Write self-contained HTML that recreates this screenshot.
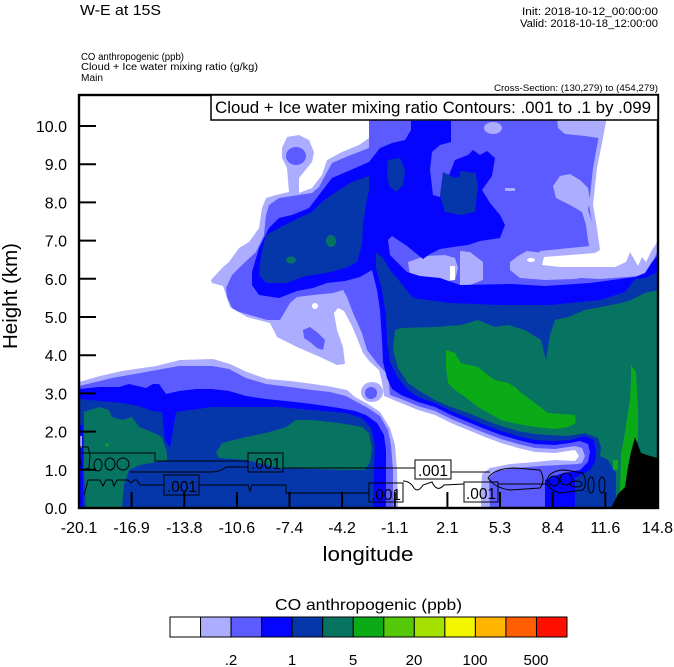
<!DOCTYPE html>
<html><head><meta charset="utf-8"><style>
html,body{margin:0;padding:0;background:#fff;}
svg{display:block;font-family:"Liberation Sans",Arial,sans-serif;}
</style></head><body>
<svg width="674" height="667" viewBox="0 0 674 667" xmlns="http://www.w3.org/2000/svg">
<defs><clipPath id="pc"><rect x="79" y="95" width="579" height="413"/></clipPath></defs>

<!-- header texts -->
<text x="80" y="15" font-size="15" textLength="81" lengthAdjust="spacingAndGlyphs">W-E at 15S</text>
<text x="658" y="15" font-size="11" text-anchor="end" textLength="136" lengthAdjust="spacingAndGlyphs">Init: 2018-10-12_00:00:00</text>
<text x="658" y="27" font-size="11" text-anchor="end" textLength="138" lengthAdjust="spacingAndGlyphs">Valid: 2018-10-18_12:00:00</text>
<text x="81" y="60" font-size="10" textLength="103" lengthAdjust="spacingAndGlyphs">CO anthropogenic   (ppb)</text>
<text x="81" y="70" font-size="10" textLength="177" lengthAdjust="spacingAndGlyphs">Cloud + Ice water mixing ratio   (g/kg)</text>
<text x="81" y="81" font-size="10" textLength="22" lengthAdjust="spacingAndGlyphs">Main</text>
<text x="658" y="91" font-size="9" text-anchor="end" textLength="164" lengthAdjust="spacingAndGlyphs">Cross-Section: (130,279) to (454,279)</text>

<g clip-path="url(#pc)">
<rect x="79" y="95" width="579" height="413" fill="#adadff"/>
<!-- medium -->
<g fill="#5b5bff">
<polygon points="369,118 600,118 599,135 593,168 589,205 593,228 590,246 560,249 540,251 535,262 545,276 600,279 640,276 648,272 658,250 658,508 490,508 489,478 497,471 515,468 540,466 560,465 578,464 582,463 585,456 582,448 575,446 568,447 555,449 535,448 518,444 501,439 485,433 468,426 451,419 435,411 418,406 401,399 390,395 388,375 377,363 367,350 362,333 353,313 347,297 343,290 333,293 313,295 297,297 290,303 280,320 267,320 233,310 227,297 226,288 232,275 242,265 256,252 264,235 266,215 269,205 279,198 312,193 319,187 327,172 332,163 346,157 369,148"/>
<polygon points="79,386 100,381 112,378 146,372 179,366 212,366 229,369 246,378 266,384 290,387 312,390 330,392 346,396 355,401 368,408 380,416 388,430 391,445 393,470 393,508 79,508"/>
</g>
<!-- light patches -->
<g fill="#adadff">
<ellipse cx="493" cy="128" rx="9" ry="6"/>
<polygon points="557,118 604,118 603,138 598,138 585,136 565,134 558,128"/>
<polygon points="560,176 570,174 580,180 588,188 590,200 588,210 593,225 596,248 590,252 588,240 586,225 582,212 570,205 556,198 553,186"/>
<polygon points="510,262 518,256 527,251 543,253 545,256 541,263 560,268 588,269 592,276 575,279 545,280 520,278 510,270"/>
<polygon points="408,262 425,256 445,255 455,258 458,268 455,280 440,283 420,282 410,275"/>
<polygon points="460,251 470,252 483,262 483,280 470,285 460,285"/>
<rect x="505" y="188" width="10" height="3"/>
</g>
<!-- white -->
<g fill="#ffffff">
<polygon points="79,95 369,95 369,138 359,145 342,152 327,160 322,175 312,188 299,193 299,178 312,162 314,152 309,140 299,135 287,137 282,148 282,158 287,168 289,192 276,195 266,198 262,208 259,228 249,242 239,248 229,262 222,268 211,280 212,283 223,286 230,307 247,317 270,323 277,337 297,347 320,357 337,365 345,364 343,347 337,330 334,313 338,308 344,311 351,324 357,338 363,353 370,362 379,370 382,382 384,396 401,403 418,410 435,415 451,423 468,430 485,437 501,443 518,448 535,452 555,453 568,451 575,450 579,456 575,461 555,460 535,462 510,464 490,468 482,474 481,490 481,508 398,508 397,470 395,445 390,428 380,412 368,404 355,397 347,390 327,386 313,384 290,381 267,379 247,372 230,364 213,359 180,360 156,366 122,371 100,376 79,382"/>
<polygon points="607,95 658,95 658,241 652,250 646,262 642,257 638,266 630,252 626,262 615,267 590,267 560,267 542,265 544,257 570,255 595,253 600,250 597,228 593,205 597,168 603,138 606,122"/>
<circle cx="315" cy="306" r="3"/>
<rect x="450" y="266" width="5" height="14"/>
<ellipse cx="531" cy="260" rx="4" ry="2"/>
</g>
<ellipse cx="372" cy="392" rx="11" ry="10" fill="#adadff"/>
<g fill="#5b5bff">
<circle cx="371" cy="393" r="6"/>
<polygon points="303,330 310,327 318,333 325,340 323,350 317,348 310,342 304,338"/>
<ellipse cx="296" cy="156" rx="10" ry="9"/>
</g>
<!-- blue -->
<g fill="#0505ff">
<polygon points="369,162 380,148 392,143 405,140 411,130 411,121 451,121 451,142 440,145 432,152 430,170 433,195 440,197 455,160 468,155 473,150 480,155 487,151 495,158 492,176 482,190 490,203 500,215 505,225 500,238 480,241 468,245 460,246 440,249 430,254 423,259 407,246 392,236 388,240 390,255 397,262 407,272 420,276 440,278 460,285 511,284 545,286 590,283 635,277 645,273 652,262 658,255 658,508 545,508 545,480 560,474 580,470 588,462 590,452 588,444 580,441 570,443 555,445 535,444 518,440 501,435 485,429 468,422 451,415 435,407 418,402 401,395 392,389 387,378 383,362 382,340 380,310 377,290 372,270 360,277 345,281 327,283 313,288 297,291 279,298 259,295 252,285 252,272 259,248 269,228 279,218 292,215 309,208 319,195 332,178 346,172"/>
<polygon points="79,389 99,387 119,387 129,384 146,388 153,384 159,384 166,394 179,391 196,389 212,389 229,391 246,396 266,399 286,401 312,404 339,408 355,411 366,415 377,423 384,435 386,450 386,508 79,508"/>
</g>
<!-- dark blue -->
<g fill="#0537ab">
<polygon points="369,176 352,182 336,192 322,202 312,212 299,218 279,228 266,235 261,255 259,275 266,283 286,283 306,276 326,273 346,268 357,262 362,245 363,225 366,205 369,190"/>
<polygon points="388,160 400,158 405,170 403,185 396,192 389,186 387,172"/>
<polygon points="443,172 455,178 475,172 478,185 475,212 461,215 445,212 440,195"/>
<polygon points="460,171 470,172 477,180 475,200 470,212 460,215"/>
<polygon points="376,252 383,258 390,270 397,278 413,298 450,303 500,305 550,305 600,300 625,292 635,279 645,278 658,272 658,508 575,508 575,478 590,470 595,462 596,452 594,440 585,436 570,440 555,441 535,440 518,436 501,431 485,425 468,418 451,411 435,403 418,397 408,390 398,378 390,362 387,340 386,315 382,290 376,268"/>
<polygon points="79,399 122,403 139,406 152,411 162,412 165,440 170,448 176,412 212,407 246,407 279,407 312,410 346,413 362,418 371,428 375,445 374,470 373,508 79,508"/>
</g>
<!-- teal -->
<g fill="#077462">
<ellipse cx="331" cy="241" rx="5" ry="6"/>
<ellipse cx="291" cy="260" rx="5" ry="3.5"/>
<polygon points="84,412 99,407 109,410 112,417 122,420 132,417 139,427 152,432 162,437 167,453 167,460 140,465 129,470 124,485 122,508 86,508 84,470"/>
<polygon points="216,453 222,443 246,437 266,433 286,427 296,420 312,420 339,423 362,427 369,433 372,448 370,462 365,470 346,470 312,469 279,468 246,460 219,458"/>
<polygon points="395,330 401,328 435,327 461,325 478,320 495,327 508,325 525,330 541,340 546,360 550,335 555,320 568,317 585,310 601,307 621,303 631,300 645,293 658,290 658,508 616,508 616,473 608,460 600,456 601,447 598,438 585,433 568,436 548,435 535,434 518,431 501,426 485,420 468,413 451,407 435,400 418,390 408,383 398,368 393,350"/>
</g>
<!-- green -->
<g fill="#0aab17">
<polygon points="446,350 455,353 461,363 478,367 485,373 495,380 508,383 515,387 521,393 531,400 548,413 575,415 576,423 568,427 555,429 535,427 518,424 501,420 478,407 465,397 455,390 448,383 446,367"/>
<polygon points="631,365 636,372 638,410 638,440 631,452 628,467 625,487 618,494 614,502 613,508 620,490 621,455 625,432 630,400 631,380"/>
<rect x="613" y="460" width="5" height="10"/>
<circle cx="107" cy="445" r="1.5"/>
</g>
<polygon points="611,508 615,500 618,494 625,487 628,467 631,452 635,437 641,453 650,456 658,458 658,508" fill="#000"/>
<rect x="79" y="425" width="4" height="83" fill="#0505ff"/>
<rect x="79" y="436" width="3" height="12" fill="#adadff"/>

<!-- contour lines -->
<g fill="none" stroke="#000" stroke-width="1">
<path d="M82,453 H155 V461 H248 M283,468 H415 M451,472 H490"/>
<path d="M130,472 H212 Q220,472 226,467 H248"/>
<path d="M84,495 L86,488 L88,480 H100 L103,486 L106,480 H112 L114,486 L117,480 H128 L131,483 L134,480 H137 L140,485 H164 M199,485 H248 L250,491 L252,485 H286 V493 H369"/>
<path d="M403,481 Q410,481 414,488 Q418,493 423,485 L432,482 Q437,493 444,485 L464,484 M498,484 H547"/>
<path d="M80,447 H88 L90,455 L89,468 L82,470 L80,460 Z"/>
<ellipse cx="98" cy="465" rx="4" ry="6"/>
<ellipse cx="110" cy="464" rx="5" ry="6"/>
<ellipse cx="123" cy="464" rx="6" ry="6"/>
<path d="M488,478 Q495,468 515,468 L540,470 Q546,480 540,488 L510,490 Q495,488 488,478 Z"/>
<path d="M547,480 Q550,470 565,470 L583,473 Q588,483 583,490 L560,493 Q547,490 547,480 Z"/>
<circle cx="554" cy="481" r="5"/>
<circle cx="566" cy="479" r="6"/>
<ellipse cx="576" cy="484" rx="6" ry="3"/>
<ellipse cx="591" cy="485" rx="3" ry="8"/>
<ellipse cx="602" cy="485" rx="3" ry="8"/>
<rect x="164" y="475" width="35" height="20"/>
<rect x="248" y="453" width="35" height="19"/>
<rect x="369" y="483" width="34" height="19"/>
<rect x="415" y="460" width="36" height="19"/>
<rect x="464" y="482" width="34" height="20"/>
</g>
<g font-size="16" fill="#000">
<text x="167" y="492" textLength="30" lengthAdjust="spacingAndGlyphs">.001</text>
<text x="251" y="469" textLength="30" lengthAdjust="spacingAndGlyphs">.001</text>
<text x="371" y="500" textLength="30" lengthAdjust="spacingAndGlyphs">.001</text>
<text x="418" y="476" textLength="30" lengthAdjust="spacingAndGlyphs">.001</text>
<text x="466" y="499" textLength="30" lengthAdjust="spacingAndGlyphs">.001</text>
</g>
</g>

<!-- ticks -->
<g stroke="#000" stroke-width="2">
<path d="M79,508 H96 M79,469.8 H96 M79,431.6 H96 M79,393.4 H96 M79,355.2 H96 M79,317 H96 M79,278.8 H96 M79,240.6 H96 M79,202.4 H96 M79,164.2 H96 M79,126 H96"/>
<path d="M131.6,508 V492 M184.3,508 V492 M236.9,508 V492 M289.5,508 V492 M342.1,508 V492 M394.8,508 V492 M447.4,508 V492 M500,508 V492 M552.7,508 V492 M605.3,508 V492"/>
</g>
<rect x="79" y="95" width="579" height="413" fill="none" stroke="#000" stroke-width="2.4"/>

<!-- info box -->
<rect x="211" y="95" width="447" height="25" fill="#fff" stroke="#000" stroke-width="1.5"/>
<text x="215" y="113" font-size="17" textLength="436" lengthAdjust="spacingAndGlyphs">Cloud + Ice water mixing ratio Contours: .001 to .1 by .099</text>

<!-- y labels -->
<g font-size="16" text-anchor="end">
<text x="67" y="514">0.0</text>
<text x="67" y="475.8">1.0</text>
<text x="67" y="437.6">2.0</text>
<text x="67" y="399.4">3.0</text>
<text x="67" y="361.2">4.0</text>
<text x="67" y="323">5.0</text>
<text x="67" y="284.8">6.0</text>
<text x="67" y="246.6">7.0</text>
<text x="67" y="208.4">8.0</text>
<text x="67" y="170.2">9.0</text>
<text x="67" y="132">10.0</text>
</g>
<!-- x labels -->
<g font-size="16" text-anchor="middle">
<text x="79" y="533">-20.1</text>
<text x="131.6" y="533">-16.9</text>
<text x="184.3" y="533">-13.8</text>
<text x="236.9" y="533">-10.6</text>
<text x="289.5" y="533">-7.4</text>
<text x="342.1" y="533">-4.2</text>
<text x="394.8" y="533">-1.1</text>
<text x="447.4" y="533">2.1</text>
<text x="500" y="533">5.3</text>
<text x="552.7" y="533">8.4</text>
<text x="605.3" y="533">11.6</text>
<text x="657.5" y="533">14.8</text>
</g>
<text x="368" y="561" font-size="20" text-anchor="middle" textLength="91" lengthAdjust="spacingAndGlyphs">longitude</text>
<text transform="translate(17,296) rotate(-90)" font-size="20" text-anchor="middle" textLength="106" lengthAdjust="spacingAndGlyphs">Height (km)</text>

<!-- colorbar -->
<text x="368.5" y="610" font-size="16" text-anchor="middle" textLength="187" lengthAdjust="spacingAndGlyphs">CO anthropogenic  (ppb)</text>
<g stroke="#000" stroke-width="1">
<rect x="170" y="617" width="30.54" height="20" fill="#ffffff"/>
<rect x="200.54" y="617" width="30.54" height="20" fill="#adadff"/>
<rect x="231.08" y="617" width="30.54" height="20" fill="#5b5bff"/>
<rect x="261.62" y="617" width="30.54" height="20" fill="#0505ff"/>
<rect x="292.16" y="617" width="30.54" height="20" fill="#0537ab"/>
<rect x="322.7" y="617" width="30.54" height="20" fill="#077462"/>
<rect x="353.24" y="617" width="30.54" height="20" fill="#0aab17"/>
<rect x="383.78" y="617" width="30.54" height="20" fill="#55c80a"/>
<rect x="414.32" y="617" width="30.54" height="20" fill="#a5e100"/>
<rect x="444.86" y="617" width="30.54" height="20" fill="#f2f700"/>
<rect x="475.4" y="617" width="30.54" height="20" fill="#ffb400"/>
<rect x="505.94" y="617" width="30.54" height="20" fill="#ff5f00"/>
<rect x="536.48" y="617" width="30.52" height="20" fill="#ff0f00"/>
</g>
<g font-size="15" text-anchor="middle">
<text x="231" y="665">.2</text>
<text x="292" y="665">1</text>
<text x="353" y="665">5</text>
<text x="414" y="665">20</text>
<text x="475" y="665">100</text>
<text x="536" y="665">500</text>
</g>
</svg>
</body></html>
